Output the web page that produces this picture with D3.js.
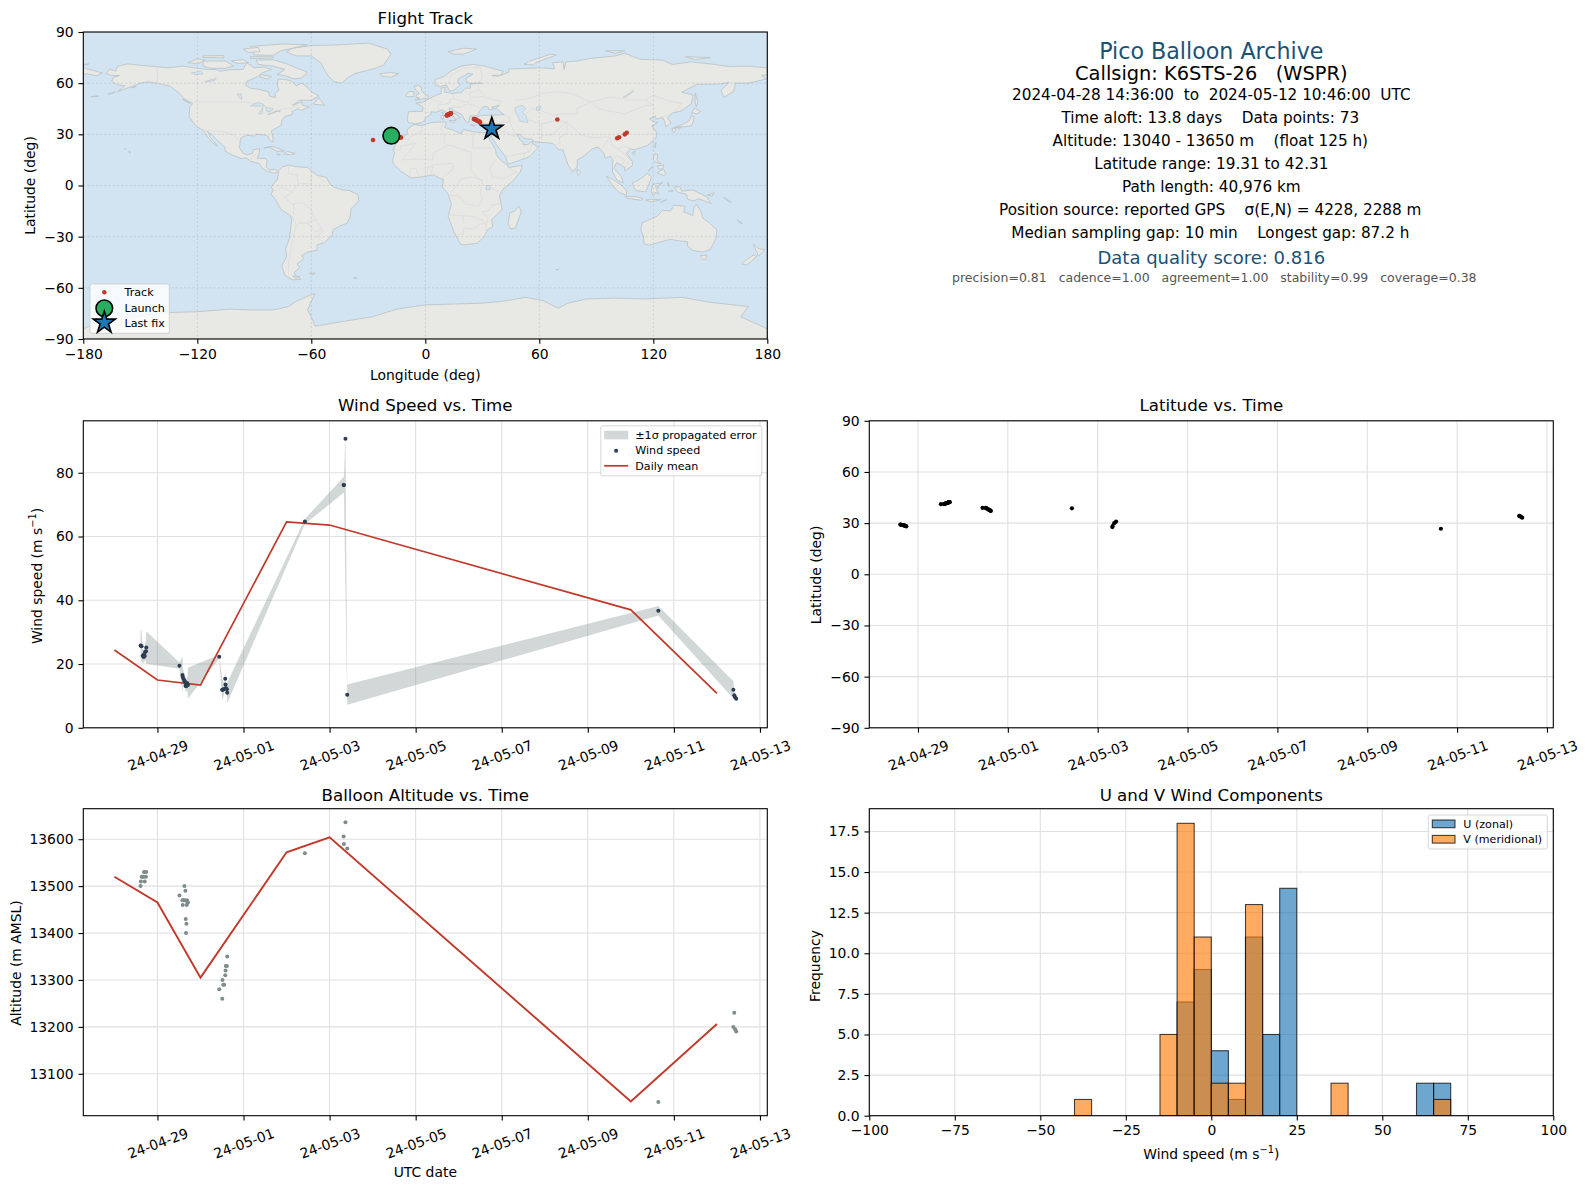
<!DOCTYPE html>
<html><head><meta charset="utf-8">
<script src="https://cdn.jsdelivr.net/npm/d3@7/dist/d3.min.js"></script>
<style>
html,body{margin:0;padding:0;background:#fff}
svg{display:block}
text{font-family:"DejaVu Sans",sans-serif;white-space:pre;fill:#000}
.domain{stroke:#000;stroke-width:1.1}
.tick line{stroke:#000;stroke-width:1.1}
.tick text{font-size:13.9px}
</style></head><body>
<svg id="c" width="1589" height="1189"></svg>
<script>
// ---------- flight records ----------
const times=["2024-04-28T14:36Z","2024-04-28T14:46Z","2024-04-28T15:10Z","2024-04-28T15:46Z","2024-04-28T16:20Z","2024-04-28T16:30Z","2024-04-28T16:56Z","2024-04-28T17:06Z","2024-04-28T17:36Z","2024-04-28T17:46Z",
"2024-04-29T12:16Z","2024-04-29T13:56Z","2024-04-29T14:06Z","2024-04-29T14:30Z","2024-04-29T15:02Z","2024-04-29T15:12Z","2024-04-29T15:36Z","2024-04-29T15:46Z","2024-04-29T15:56Z","2024-04-29T16:10Z","2024-04-29T16:20Z","2024-04-29T16:30Z","2024-04-29T16:42Z","2024-04-29T17:00Z",
"2024-04-30T10:28Z","2024-04-30T12:08Z","2024-04-30T12:18Z","2024-04-30T12:40Z","2024-04-30T13:14Z","2024-04-30T13:48Z","2024-04-30T13:58Z","2024-04-30T14:08Z","2024-04-30T14:44Z","2024-04-30T14:54Z",
"2024-05-02T10:14Z","2024-05-03T07:50Z","2024-05-03T08:00Z","2024-05-03T08:50Z","2024-05-03T09:50Z","2024-05-10T15:20Z",
"2024-05-12T09:10Z","2024-05-12T09:40Z","2024-05-12T10:10Z","2024-05-12T10:46Z"];
const windSpeed=[25.8,25.7,25.6,22.6,22.2,23.0,22.5,23.8,24.0,25.2,
19.5,16.6,16.0,15.4,14.8,14.5,14.2,13.2,13.0,13.6,13.3,13.9,14.0,13.4,
22.3,11.9,11.9,12.0,12.2,15.4,13.6,12.5,12.1,11.0,
64.7,76.2,76.2,90.7,10.4,36.7,
11.9,10.2,9.6,9.1];
const windErrorUp=[4.9,4.9,4.7,2.2,2.0,2.0,2.0,2.2,3.5,5.1,
1.0,5.7,3.0,2.5,2.0,2.0,2.0,2.0,2.0,2.0,2.0,2.0,2.0,5.4,
0.6,3.3,3.0,2.5,1.5,3.6,2.0,1.5,1.0,3.2,
0.8,2.5,2.5,1.5,3.15,1.5,
2.7,1.2,0.6,0.5];
const windErrorDown=[4.9,4.9,4.7,2.2,2.0,2.0,2.0,2.2,3.5,5.1,
1.0,5.7,3.0,2.5,2.0,2.0,2.0,2.0,2.0,2.0,2.0,2.0,2.0,4.2,
0.6,3.3,3.0,2.5,1.5,3.6,2.0,1.5,1.0,3.2,
0.8,2.5,2.5,47,3.15,1.5,
2.7,1.2,0.6,0.5];
const altitude=[13500,13510,13520,13520,13520,13530,13510,13530,13520,13530,
13480,13470,13460,13470,13500,13470,13490,13430,13400,13420,13460,13470,13465,13465,
13280,13260,13300,13290,13290,13310,13320,13330,13330,13350,
13570,13606,13590,13636,13580,13040,
13200,13230,13195,13190];
const latitude=[29.2,29.1,29.0,28.9,28.8,28.6,28.5,28.4,28.2,28.1,
41.1,41.2,41.3,41.4,41.6,41.7,41.8,41.9,42.0,42.1,42.2,42.25,42.3,42.31,
39.0,38.9,38.8,38.6,38.3,38.0,37.8,37.6,37.3,37.1,
38.7,27.7,28.3,30.0,30.9,26.7,
34.2,34.0,33.7,33.2];
const longitude=[-17.9,-17.0,-16.0,-15.5,-15.0,-14.5,-14.0,-13.6,-13.2,-12.8,
11.3,11.5,11.7,11.9,12.1,12.3,12.5,12.7,12.9,13.0,13.2,13.3,13.4,13.5,
25.6,25.9,26.2,26.5,27.0,27.4,27.8,28.2,28.5,28.8,
69.5,101,102,105,106,-27.5,
33,33.5,34,35];
// ---------- daily means ----------
const dailyDates=["2024-04-28","2024-04-29","2024-04-30","2024-05-02","2024-05-03","2024-05-10","2024-05-12"];
const dailyWind=[24.4,15.0,13.4,64.6,63.6,37.0,10.8];
const dailyAlt=[13520,13465,13305,13572,13604,13041,13206];
// ---------- histogram ----------
const binLefts=[-40,-15,-10,-5,0,5,10,15,20,35,60,65];
const binWidth=5;
const countsU=[0,0,7,9,4,1,11,5,14,0,2,2];
const countsV=[1,5,18,11,2,2,13,0,0,2,0,1];
// ---------- tick labels ----------
const dateTicks=["2024-04-29","2024-05-01","2024-05-03","2024-05-05","2024-05-07","2024-05-09","2024-05-11","2024-05-13"];
const lonTicks=[-180,-120,-60,0,60,120,180];
const latTicks=[-90,-60,-30,0,30,60,90];
const windTicks=[0,20,40,60,80];
const altTicks=[13100,13200,13300,13400,13500,13600];
const histXTicks=[-100,-75,-50,-25,0,25,50,75,100];
const histYTicks=[0,2.5,5,7.5,10,12.5,15,17.5];
// ---------- info panel text ----------
const infoLines=[
["Pico Balloon Archive",50.7,22.2,"#1a5276",0],
["Callsign: K6STS-26   (WSPR)",73.3,19.4,"#000",0],
["2024-04-28 14:36:00  to  2024-05-12 10:46:00  UTC",95.0,15.25,"#000",0],
["Time aloft: 13.8 days    Data points: 73",118.0,15.25,"#000",-1],
["Altitude: 13040 - 13650 m    (float 125 h)",141.2,15.25,"#000",-1],
["Latitude range: 19.31 to 42.31",164.0,15.25,"#000",0],
["Path length: 40,976 km",187.0,15.25,"#000",0],
["Position source: reported GPS    σ(E,N) = 4228, 2288 m",210.0,15.25,"#000",-1],
["Median sampling gap: 10 min    Longest gap: 87.2 h",233.0,15.25,"#000",-1],
["Data quality score: 0.816",257,18,"#1a5276",0],
["precision=0.81   cadence=1.00   agreement=1.00   stability=0.99   coverage=0.38",277.3,12.5,"#555",3]];
// ---------- base map (lon, lat outlines) ----------
const land=[
[[-168,65.6],[-166,68.3],[-163,67],[-162,70],[-156.5,71.3],[-150,70.5],[-141,69.6],[-135,69],[-128,70],[-125,69.5],[-115,68],[-110,68],[-108,67],[-102,68],[-96,68],[-94,72],[-90,69],[-85,69.5],[-81,68],[-86,66],[-88,64],[-94,61],[-94.5,58.7],[-92,57],[-88,56.5],[-82.5,55],[-82,52.5],[-79,51.5],[-79,54],[-77,56],[-78,59],[-77.5,62.4],[-73,62],[-70,61],[-68,58.5],[-65,60],[-62,57.5],[-60,55],[-56,52.5],[-60,50],[-66,50],[-70,47],[-65,49],[-64.5,47],[-61,46],[-65.5,44],[-67,45],[-70,43.5],[-70,41.7],[-74,40.5],[-75.5,38],[-76,35],[-78,34],[-81,32],[-80,27],[-80.5,25.2],[-82,27],[-83,29],[-85,29.7],[-89,30],[-90,29],[-94,29.5],[-97,28],[-97.5,25],[-97.8,22],[-96,19],[-94,18],[-91,18.8],[-90.5,21],[-87,21.5],[-87.5,18.5],[-88.5,16],[-84,15.8],[-83.3,14.5],[-83.7,11],[-82,9],[-79.5,9.5],[-77.3,8.5],[-78,7.5],[-80,7.3],[-83,8.2],[-85.7,10],[-87.5,13],[-91.5,14],[-94.5,16.2],[-97,15.8],[-102,18],[-105.5,20.4],[-105.5,22.5],[-109,26],[-112.5,30],[-114.7,31.7],[-113,28],[-110,24],[-109.5,23],[-112,25],[-115,29],[-117,32.5],[-120.5,34.5],[-122.5,37.5],[-124.3,40.3],[-124,46],[-122.5,48],[-127,51],[-130,54.5],[-134,58],[-140,59.7],[-146,60.8],[-150,60],[-152,59],[-156,57.5],[-162,55],[-158,58.5],[-162,59],[-165,61],[-164,63.5],[-161,64.5],[-165,64.5]],
[[-77.3,8.5],[-75,11],[-72,12],[-68,11],[-62,10.6],[-60,8.5],[-57,6],[-52,4.7],[-50,0.5],[-48,-1],[-44,-2.5],[-40,-3],[-35.5,-5.2],[-35,-9],[-39,-13.5],[-39.5,-18],[-41,-22],[-45,-23.7],[-48.5,-26],[-49,-29],[-53,-33.5],[-57,-34.8],[-57,-38],[-62,-39],[-65,-41],[-64,-43],[-67.5,-46],[-66,-48],[-69,-51],[-68.5,-52.5],[-65.5,-55],[-70,-55.3],[-74,-52.5],[-75.5,-47],[-73,-42],[-73.5,-37],[-71.5,-31],[-70.3,-20],[-71,-17.5],[-76,-14],[-79,-8],[-81.3,-5],[-80,-3],[-81,-1],[-80,1],[-78,3],[-77.3,7]],
[[-5.9,35.8],[-2,35.1],[3,36.9],[10,37.3],[11,36.8],[10.2,34],[15,32.3],[19,30.3],[20,32.8],[25,31.6],[29,31],[32.3,31.2],[34.3,31.3],[34.9,29.5],[34,28],[32.6,29.9],[34,26.5],[37,21],[37.4,18],[39.5,15],[43.2,12],[44,10.6],[51,11.8],[50,8],[46,2.5],[41,-2],[39,-6],[40.5,-14],[35,-20],[35.5,-24],[32.8,-26],[31,-30],[27,-34],[20,-34.8],[18.3,-34],[15,-27],[12,-18],[13.7,-11],[12,-5],[9,-1],[9.5,3.5],[7,4.5],[4.5,6.3],[-2,5],[-7.5,4.4],[-13,8.5],[-16.7,12.5],[-17.3,14.7],[-16.2,19],[-17,21],[-14.5,26],[-12,28],[-9.7,30],[-9.5,33]],
[[-5.4,36.1],[-9,37],[-9.5,38.7],[-8.8,43.3],[-1.5,43.5],[-1.2,46],[-4.7,48.4],[-1.5,48.7],[1.5,50.5],[4,52],[7,53.5],[8.5,54],[8.2,57],[10.5,57.7],[10,54.8],[14,54],[19,54.5],[21,57],[24,57.2],[23.5,59.3],[28,60],[30,60],[23,60],[21.5,61],[21.5,63],[25,65.2],[22.5,65.8],[17.5,62.5],[17,60.5],[18.5,59.5],[16.5,57],[14.3,55.5],[12.8,55.5],[11,59],[8,58],[5.3,59],[5,62],[10,64],[14,67.5],[19,70],[25,71],[31,70],[41,67],[40,64.7],[35,64.5],[38,64],[44,66.5],[44,68.3],[54,68.7],[60,69],[68,68.5],[67,72],[72.5,72.5],[73,68],[74,72.5],[80,73],[87,74.5],[100,76],[105,77.5],[113,74],[125,73.5],[130,71],[140,72.5],[152,71],[160,69.7],[170,70],[180,69],[180,65],[177,64.5],[179.5,62.5],[170,60],[163,60],[163,58],[162,55],[157,51.5],[155.7,56],[160,60.5],[155,59.5],[143,59.3],[135,54.7],[141,53],[140,48],[135,43.8],[130,42.5],[127.5,39.7],[129.4,36.5],[126.5,34.5],[126,37.5],[125,39.7],[121.5,39],[121,40.8],[118,39],[120,37.5],[122.5,37],[119.3,35],[121.8,31],[121.5,28],[117,23.5],[113,22],[110,21],[108,21.5],[105.8,19],[109,14],[109,11.5],[105,8.7],[105,10.5],[100.7,13.5],[99.3,10],[103,5.5],[104.2,1.5],[101,3],[98.5,8],[98.7,15],[97.5,17],[94.5,16],[94,19],[91,22.5],[88,21.7],[87,20.5],[82.5,16.5],[80,15],[80,11],[77.5,8],[75,12.5],[73,19],[72.5,21],[70,21],[69,22.5],[67,24.7],[62,25.2],[57,25.7],[56.5,27],[52,27.5],[50,30],[48.2,30],[50,26.5],[51.5,25.5],[51.5,24],[54,24],[56.3,26],[56.5,24.5],[59.5,22.5],[55,17],[52,15.7],[45,13],[43.3,12.7],[42.5,16.5],[39,21.5],[35,28],[34.9,29.5],[34.3,31.3],[36,36],[33,36.1],[30,36.3],[27,37],[26.5,39.5],[29,41],[31.5,41.2],[36,41.3],[41.5,41.5],[38,44.5],[37,45.3],[39,47],[35,46],[36.5,45],[33.5,44.4],[33,46],[31,46.5],[28.5,43.5],[28,41.5],[26,40.8],[23.5,40.5],[23,38],[22.5,36.5],[21,38],[19.3,41.5],[15.5,43.5],[13.7,45.5],[12.3,45.3],[13.5,43.5],[18.3,40],[16.5,39],[16,38],[15.5,40],[12.3,41.7],[10.3,43.5],[8.7,44.4],[6,43],[3.2,43.2],[3,41.8],[0,39.5],[-0.5,38],[-2,36.8]],
[[-180,-84],[-170,-79],[-158,-78],[-150,-76.5],[-135,-74.5],[-120,-74],[-103,-72.5],[-90,-73],[-80,-73],[-72,-71],[-68,-68],[-62,-65],[-58,-63.3],[-60,-68],[-62,-73],[-60,-77],[-58,-82.5],[-45,-80],[-28,-77],[-15,-72.5],[0,-70],[15,-69.5],[30,-69],[40,-68],[53,-65.6],[62,-67.5],[70,-72],[75,-69],[85,-66.5],[100,-66],[115,-66.5],[135,-65.6],[150,-68.5],[170,-71],[166,-77],[170,-79],[180,-84],[180,-90],[-180,-90]],
[[-73,78.3],[-68,76],[-60,76],[-55,72],[-53,68],[-51,64],[-48,61],[-44,60],[-41,63],[-37,65.7],[-27,68.5],[-22,70.5],[-20,74],[-18,77],[-20,80],[-30,83.5],[-45,82.5],[-60,82],[-70,80.5]],
[[-80,73.7],[-72,71],[-68,69],[-62,66.5],[-65,63],[-69,62.5],[-74,64.5],[-78,65],[-74,68],[-80,70],[-88,71],[-89,73.5]],
[[-117,73],[-105,73],[-101,70],[-105,68.7],[-113,68.7],[-117,70]],
[[-125,72],[-120,74.3],[-116,73.5],[-120,71.3]],
[[-90,76.5],[-80,76.3],[-76,79],[-62,82.5],[-75,83],[-92,81.5]],
[[-92,75.5],[-80,75.5],[-80,74.7],[-92,74.5]],
[[-117,76],[-106,76.2],[-106,74.9],[-117,75]],
[[-96,80],[-88,81],[-87,78.5],[-93,78]],
[[-87,65],[-81,64],[-83,62.5],[-87,63.5]],
[[-102,73],[-96,73.8],[-93,72],[-99,71.5]],
[[-59,47.7],[-56,51.5],[-53,47]],
[[-128,50.7],[-123.5,48.4],[-125,48.7]],
[[-85,22],[-80,23],[-74.2,20.2],[-78,20],[-82,22.5]],
[[-74.4,18.5],[-72.5,20],[-68.5,18.7],[-71,18]],
[[-78.3,18.4],[-76.3,18.2],[-77,17.8]],
[[-24,65.5],[-18,66.3],[-14,65.5],[-18,63.5],[-22.5,64]],
[[-5.5,50],[1.3,51.2],[1.7,52.7],[-0.3,53.5],[-2,56],[-2,57.6],[-3.5,58.6],[-6,58.3],[-5,56],[-3,54],[-4.5,53.3],[-5,51.7],[-3,51.4]],
[[-10,52],[-6,52.2],[-6,55],[-8.5,55.2],[-10,53.5]],
[[12,78.5],[20,80.5],[27,80],[20,77],[15,77]],
[[52,71],[55,73],[66,77],[69,76.5],[58,72],[57,70.7]],
[[95,79],[105,79],[100,77.5]],
[[137,75.5],[150,75],[142,73.8]],
[[-180,71],[-177,71.3],[-178,70.8],[-180,70.8]],
[[-180,69],[-175,67.5],[-170,66],[-173,64.3],[-178,65.5],[-180,65]],
[[142,54.3],[143.5,49],[142.7,46],[142,49]],
[[140,42],[141.5,45.4],[145,43.5],[143,42],[141,42.5]],
[[130.9,34],[135,35.7],[139,38],[140,41],[141.5,40.5],[141,37],[140,35],[136.5,34.5],[133,34.2]],
[[130,33.5],[132,33.5],[131,31],[130,31.5]],
[[132.5,34],[134.5,34],[133.5,33]],
[[120.3,23],[121.5,25.2],[121,22]],
[[108.7,19.3],[110.5,20],[110,18.2]],
[[120,16],[120.8,18.5],[122.3,18.3],[122,15],[124,12.7],[120.6,14]],
[[122,7.5],[125.4,9.7],[126.5,7],[125.5,5.8],[124,6.5]],
[[122,11.5],[125.5,12],[125,10],[123,9.5]],
[[117.2,8.4],[119.5,11.2],[119,10]],
[[109,1.5],[111.5,2.7],[114,4.5],[117,7],[119,5],[117.8,1],[116,-3.8],[111,-3],[109.5,-0.5]],
[[95.3,5.5],[98,4],[103.5,0],[106,-3],[105.8,-5.8],[102,-4],[98.5,0]],
[[105.3,-6.5],[111,-6.5],[114.5,-7.7],[114,-8.7],[106,-7.5]],
[[116,-8.5],[119,-8.2],[124,-8.3],[119,-9.7]],
[[124,-9.9],[127,-8.4],[125,-9.3]],
[[119.5,-5.5],[119,-2.5],[120,0.8],[125,1.5],[121,-0.9],[123,-1],[121.5,-2],[122.8,-5],[121,-4],[120.5,-5.5]],
[[127.5,2],[128.5,-0.5],[127.8,0]],
[[128,-3.5],[130.5,-3.2],[129,-3]],
[[131,-0.8],[134,-0.8],[135,-3.3],[141,-2.6],[146,-5.5],[147.8,-6.5],[150.5,-10.5],[144,-7.8],[141,-9],[138,-8],[137.5,-5.2],[133,-4],[132,-2.7]],
[[148.5,-5.7],[152,-4.2],[151,-6.2]],
[[157,-7],[161,-9.5],[160,-9.7]],
[[114,-22],[113.5,-26],[115,-31],[115,-34.3],[118,-35],[124,-33],[129,-31.6],[134,-32.5],[138,-33],[138,-35.5],[140.5,-38],[146,-39],[150,-37.5],[153,-31],[153.5,-26],[149,-21.5],[146,-19],[145,-15],[142.5,-10.8],[141.5,-13],[140.7,-17.5],[136,-15.5],[136.7,-12.2],[131,-11.5],[129,-15],[125,-14.5],[122,-18],[117,-20.5]],
[[144.7,-41],[148.3,-41],[147.5,-43.5],[146,-43.5]],
[[172.7,-34.5],[175.5,-37],[178.5,-37.7],[176.8,-40],[175,-41.5],[174.8,-39.5],[174,-38]],
[[172.7,-40.7],[174.3,-41.8],[171,-45],[169,-46.6],[166.5,-46],[168.5,-44]],
[[164,-20.2],[167,-22.3],[165.5,-21.8]],
[[49.3,-12],[50.5,-15.5],[47.5,-24.8],[45,-25.5],[43.5,-22.5],[44.5,-16],[47,-15]],
[[80,9.7],[81.8,7.5],[80.5,6],[79.8,8]],
[[8.2,41],[9.7,41],[9.5,39],[8.4,39]],
[[8.7,42.8],[9.5,43],[9.4,41.5]],
[[12.5,38],[15.6,38.2],[15,36.7]],
[[23.6,35.5],[26.3,35.3],[24.7,35]],
[[32.4,35],[34.5,35.6],[33.8,34.7]],
[[-61,-51.5],[-58,-51.3],[-59,-52.3]],
[[-38,-54],[-36,-54.2],[-37,-54.6]],
[[68.8,-49.3],[70.3,-49.2],[69.5,-49.7]],
[[-156,20.2],[-155,19.6],[-155.8,19]],
[[-158.2,21.6],[-157.7,21.4],[-158,21.3]],
[[-176,52],[-172,52.7],[-172,52.2]],
[[-167,53.5],[-163,54.9],[-164,54.3]],
[[-154.5,57.5],[-152.5,58],[-153,57.2]],
[[-70,-53],[-66,-53.5],[-68,-54.5]]];
const lakes=[
[[47,45.5],[51,47],[53,45],[51,43],[53,41],[54,37],[50,37.5],[49,40],[47.5,43]],
[[58.5,46],[61,46.5],[60,44],[58.5,44]],
[[-92,46.7],[-88,48.7],[-85,47.5],[-84.7,46.5],[-87,46.5]],
[[-87.8,42],[-85.5,45.7],[-86,42]],
[[-84,46],[-80,45],[-81.7,43.2],[-83.5,43.7]],
[[-83,41.6],[-79,42.9],[-80,42.5]],
[[-79.5,43.5],[-76.3,44],[-76.5,43.3]],
[[-123,66],[-118,67],[-117,65.5],[-121,65]],
[[-116,61],[-110,62.8],[-111,61.5],[-115,60.8]],
[[-99,53.5],[-97,53.8],[-96.5,50.6],[-97.5,51]],
[[32,0],[34,0],[34,-2.5],[32,-2.5]],
[[104,51.7],[109.5,55.6],[109,54.5],[105,51.6]]];
const borders=[
[[-123,49],[-95,49],[-89,48],[-84.5,46.5],[-82.5,43],[-79,43],[-75,45],[-71,45],[-67.5,47],[-67,45]],
[[-141,69.6],[-141,60],[-135,59],[-130,55]],
[[-117,32.5],[-108,31.5],[-106.5,31.7],[-101,29.5],[-97.5,26]],
[[-92,14.5],[-91,17.5],[-89,18]],
[[-72,12],[-72,7],[-67.5,6],[-67,1]],
[[-60,8],[-60,1],[-67,1],[-70,-4],[-74,-7],[-70,-11],[-65,-10],[-60,-14],[-58,-20],[-55,-24],[-54,-27],[-57.5,-30],[-53.5,-33.5]],
[[-70,-18],[-68,-23],[-70,-33],[-72,-45],[-72,-52]],
[[-80,-3.5],[-75,-1],[-70,-4]],
[[-69,-11],[-69.5,-17.5]],
[[-67,-22],[-62,-22],[-58,-20]],
[[-62,-22],[-58,-27],[-54.5,-26]],
[[-57,6],[-54,2.5],[-52,2.5]],
[[-2,35],[-1.5,32],[-8.7,28],[-8.7,27],[-13,27.5]],
[[9.5,37],[8,33],[10,30],[10,25],[12,23.5]],
[[25,31.6],[25,22],[35,22]],
[[24,20],[24,9]],
[[-12,15],[-5,15.5],[4,15],[4,19],[12,23.5],[15,23],[24,19.5]],
[[3,12],[14,13],[15,10],[9,4.5]],
[[12,-6],[17,-6],[22,-11],[28,-12],[30,-8],[29,-4],[30,3],[25,5],[19,4],[17,1],[13,-5]],
[[36.5,14.5],[34,10],[35,5],[41.5,4],[48,8],[43,11]],
[[34,-1],[39.5,-4.5]],
[[34.5,-11.5],[40.5,-10.7]],
[[12,-17],[23,-18],[25,-18],[33,-22]],
[[17,-28.5],[20,-28.5],[20,-24.8],[25,-25.5],[29,-22.5],[32,-22.5],[32,-26.5]],
[[20,-22],[20,-18]],
[[35,-12],[33,-15],[30,-15.5],[33,-19],[32,-22.5]],
[[-8,5],[-8,10],[-5,10],[-3,5]],
[[1,6],[1,11],[4,11],[3,7]],
[[-17,21],[-13,21],[-13,23],[-5,25],[-12,15]],
[[24,9],[28,4],[30,3]],
[[-1.5,43.4],[3,42.5]],
[[2.5,51],[6,49.5],[8,49],[7.5,47.5],[6.5,46],[7.5,44]],
[[14,54],[15,51],[12.5,50],[13.5,48.7],[10,47.5],[7.5,47.5]],
[[23,54.3],[24,50.5],[22.5,49]],
[[15,51],[19,49.5],[22.5,49]],
[[13.7,46],[19,46],[22.5,48],[28,46],[30,45.5]],
[[22.5,41],[26,41.5]],
[[24,51.7],[31,52],[36,50],[40,49.5],[38,47]],
[[23,54],[28,56],[31,53]],
[[28,59.5],[28,56]],
[[28,60.5],[30,63],[29,69],[25,69]],
[[12,59],[13,64],[20,69],[25,69],[29,70]],
[[36,36.5],[42,37],[44.5,37.5],[44.5,39.7],[41.5,41.5]],
[[44.5,37.5],[46,33],[48,30]],
[[35,29.5],[39,32],[42,31.5],[46,29],[48,29]],
[[43,17],[52,19],[55,20],[52,23],[51.5,24]],
[[52,16],[52,19],[55,20],[56,24.5]],
[[61,26],[61,36],[66,37.5],[71,38],[75,37]],
[[61,29.5],[66,29.5],[70,33],[74,37],[75,33],[74,30],[70.5,28],[71,24.5],[68,23.7]],
[[74,37],[79,33],[81,30],[88,28],[97,28.5],[94.5,24],[92,21]],
[[97,28.5],[98,24],[101,21.5],[105,23],[108,21.5]],
[[101,21.5],[105,18.5],[107.5,15],[106,11],[103,11]],
[[98,15.5],[101,17.5],[105,15],[103,11]],
[[47,50],[55,51],[61,54],[70,55],[77,54],[83,51],[87,49]],
[[87,49],[98,52],[107,50],[116,50],[120,53],[127,50],[135,48],[131,43]],
[[87,49],[91,45],[105,42],[112,45],[116,47],[120,47],[116,50]],
[[53,42],[56,45],[61,44],[67,41],[71,42],[80,42],[80,45],[83,47],[87,49]],
[[53,39],[61,36],[66,37.5]],
[[124.5,40],[130,42.5]]];

// ---------- layout ----------
const svg=d3.select("#c");
const W=684,H=307;
const colX=[83.3,869.3], rowY=[32,420.8,808.7];
const parse=d3.isoParse;
const T=times.map(parse), D=dailyDates.map(parse);
const pts=T.map((t,i)=>({t,w:windSpeed[i],up:windErrorUp[i],dn:windErrorDown[i],a:altitude[i],lat:latitude[i],lon:longitude[i]}));
const daily=D.map((t,i)=>({t,w:dailyWind[i],a:dailyAlt[i]}));
const tickDates=dateTicks.map(parse);
const fmt=d3.utcFormat("%y-%m-%d");
const GRID="#e0e0e0";

function frame(x,y,px,py,o){
  const g=svg.append("g").attr("transform",`translate(${px},${py})`);
  const cid="clip"+Math.round(px)+"_"+Math.round(py);
  g.append("clipPath").attr("id",cid).append("rect").attr("width",W).attr("height",H);
  const under=g.append("g");
  const body=g.append("g").attr("clip-path",`url(#${cid})`);
  const axes=g.append("g");
  const xa=d3.axisBottom(x).tickSizeOuter(0).tickSize(4.86).tickPadding(4.86).tickValues(o.xt);
  if(o.xf) xa.tickFormat(o.xf);
  const ya=d3.axisLeft(y).tickSizeOuter(0).tickSize(4.86).tickPadding(4.86).tickValues(o.yt);
  if(o.yf) ya.tickFormat(o.yf);
  const gx=axes.append("g").attr("transform",`translate(0,${H})`).call(xa);
  const gy=axes.append("g").call(ya);
  gx.select(".domain").remove(); gy.select(".domain").remove();
  if(o.rotate){
    gx.selectAll("text").attr("text-anchor","middle").attr("dy",null)
      .attr("dominant-baseline","central")
      .attr("transform","translate(0,27.5) rotate(-20)").attr("y",0);
  }
  if(!o.noGrid){
    under.append("rect").attr("width",W).attr("height",H).attr("fill","#fff");
    const gl=under.append("g").attr("stroke",GRID).attr("stroke-width",1.1);
    gl.selectAll("line.v").data(o.xt).join("line").attr("x1",d=>x(d)).attr("x2",d=>x(d)).attr("y1",0).attr("y2",H);
    gl.selectAll("line.h").data(o.yt).join("line").attr("y1",d=>y(d)).attr("y2",d=>y(d)).attr("x1",0).attr("x2",W);
  }
  axes.append("rect").attr("width",W).attr("height",H).attr("fill","none").attr("stroke","#000").attr("stroke-width",1.1);
  return {g,body,axes};
}
function label(s,x,y,size,anchor,rot){
  return svg.append("text").attr("transform",`translate(${x},${y})${rot?` rotate(${rot})`:""}`)
    .attr("text-anchor",anchor||"middle").attr("dominant-baseline","central").attr("font-size",size).text(s);
}
function unitLabel(x,y,rot){
  const t=svg.append("text").attr("transform",`translate(${x},${y})${rot?` rotate(${rot})`:""}`)
    .attr("text-anchor","middle").attr("dominant-baseline","central").attr("font-size",13.9);
  t.append("tspan").text("Wind speed (m s");
  t.append("tspan").attr("font-size",9.8).attr("dy",-5).text("−1");
  t.append("tspan").attr("dy",5).text(")");
}
function px2(c){return colX[c]+W/2;}

// ---------- map ----------
(function(){
  const px=colX[0],py=rowY[0];
  const x=d3.scaleLinear().domain([-180,180]).range([0,W]);
  const y=d3.scaleLinear().domain([-90,90]).range([H,0]);
  const f=frame(x,y,px,py,{xt:lonTicks,yt:latTicks,noGrid:true});
  const b=f.body;
  b.append("rect").attr("width",W).attr("height",H).attr("fill","#d2e4f1");
  const ln=d3.line().x(d=>x(d[0])).y(d=>y(d[1]));
  b.append("g").selectAll("path").data(land).join("path").attr("d",d=>ln(d)+"Z")
    .attr("fill","#e8e8e4").attr("stroke","#b9c1c5").attr("stroke-width",0.8).attr("stroke-linejoin","round");
  b.append("g").selectAll("path").data(borders).join("path").attr("d",ln)
    .attr("fill","none").attr("stroke","#d9dadb").attr("stroke-width",0.7);
  b.append("g").selectAll("path").data(lakes).join("path").attr("d",d=>ln(d)+"Z")
    .attr("fill","#d2e4f1").attr("stroke","#b9c1c5").attr("stroke-width",0.6);
  const gl=b.append("g").attr("stroke","#8a8f93").attr("stroke-opacity",0.3).attr("stroke-width",0.8).attr("stroke-dasharray","2.2,2");
  gl.selectAll("line.v").data(lonTicks).join("line").attr("x1",d=>x(d)).attr("x2",d=>x(d)).attr("y1",0).attr("y2",H);
  gl.selectAll("line.h").data(latTicks).join("line").attr("y1",d=>y(d)).attr("y2",d=>y(d)).attr("x1",0).attr("x2",W);
  b.append("g").selectAll("circle").data(pts).join("circle")
    .attr("cx",d=>x(d.lon)).attr("cy",d=>y(d.lat)).attr("r",2.3).attr("fill","#c0392b");
  const first=pts[0],last=pts[pts.length-1];
  b.append("circle").attr("cx",x(first.lon)).attr("cy",y(first.lat)).attr("r",8.3)
    .attr("fill","#27ae60").attr("stroke","#000").attr("stroke-width",1.6);
  const star=d3.symbol(d3.symbolStar,150)();
  b.append("path").attr("d",star).attr("transform",`translate(${x(last.lon)},${y(last.lat)})`)
    .attr("fill","#1f77b4").attr("stroke","#000").attr("stroke-width",1.6).attr("stroke-linejoin","miter");
  const lg=f.g.append("g").attr("transform","translate(6.7,252)");
  lg.append("rect").attr("width",79.3).attr("height",49.3).attr("rx",2).attr("fill","#fff").attr("fill-opacity",0.8).attr("stroke","#ccc").attr("stroke-opacity",0.8);
  lg.append("circle").attr("cx",14.3).attr("cy",8.3).attr("r",2.2).attr("fill","#c0392b");
  lg.append("circle").attr("cx",14.3).attr("cy",24.3).attr("r",8.3).attr("fill","#27ae60").attr("stroke","#000").attr("stroke-width",1.6);
  lg.append("path").attr("d",star).attr("transform","translate(14.3,38.7)").attr("fill","#1f77b4").attr("stroke","#000").attr("stroke-width",1.6);
  ["Track","Launch","Last fix"].forEach((s,i)=>lg.append("text").attr("x",34.6).attr("y",[8.3,24.3,39][i]).attr("dominant-baseline","central").attr("font-size",11.1).text(s));
})();
label("Flight Track",px2(0),18.2,16.67);
label("Longitude (deg)",px2(0),375,13.9);
label("Latitude (deg)",30.3,185.5,13.9,"middle",-90);

// ---------- info ----------
svg.append("g").selectAll("text").data(infoLines).join("text")
  .attr("x",d=>px2(1)+d[4]).attr("y",d=>d[1]).attr("text-anchor","middle").attr("dominant-baseline","central")
  .attr("font-size",d=>d[2]).style("fill",d=>d[3]).text(d=>d[0]);

// ---------- time scales ----------
const leftDomain=[parse("2024-04-27T06:39Z"),parse("2024-05-13T04:06Z")];
const rightDomain=[parse("2024-04-27T22:00Z"),parse("2024-05-13T03:23Z")];

// ---------- wind ----------
(function(){
  const x=d3.scaleUtc().domain(leftDomain).range([0,W]);
  const y=d3.scaleLinear().domain([0,96.3]).range([H,0]);
  const f=frame(x,y,colX[0],rowY[1],{xt:tickDates,xf:fmt,yt:windTicks,rotate:true});
  const b=f.body;
  b.append("path").datum(pts).attr("d",d3.area().x(d=>x(d.t)).y0(d=>y(d.w-d.dn)).y1(d=>y(d.w+d.up)))
    .attr("fill","#7f8c8d").attr("fill-opacity",0.35);
  b.append("path").datum(daily).attr("d",d3.line().x(d=>x(d.t)).y(d=>y(d.w)))
    .attr("fill","none").attr("stroke","#c0392b").attr("stroke-width",1.7);
  b.append("g").selectAll("circle").data(pts).join("circle").attr("cx",d=>x(d.t)).attr("cy",d=>y(d.w)).attr("r",2).attr("fill","#2c3e50");
  const lg=f.g.append("g").attr("transform",`translate(517.5,5)`);
  lg.append("rect").attr("width",161).attr("height",50).attr("rx",2).attr("fill","#fff").attr("fill-opacity",0.8).attr("stroke","#ccc").attr("stroke-opacity",0.8);
  lg.append("rect").attr("x",3.4).attr("y",5).attr("width",24).attr("height",8.5).attr("fill","#7f8c8d").attr("fill-opacity",0.35);
  lg.append("circle").attr("cx",15.3).attr("cy",25).attr("r",2).attr("fill","#2c3e50");
  lg.append("line").attr("x1",3.4).attr("x2",27.4).attr("y1",40).attr("y2",40).attr("stroke","#c0392b").attr("stroke-width",1.7);
  ["±1σ propagated error","Wind speed","Daily mean"].forEach((s,i)=>lg.append("text").attr("x",34.5).attr("y",[10,25,41][i]).attr("dominant-baseline","central").attr("font-size",11.1).text(s));
})();
label("Wind Speed vs. Time",px2(0),405.8,16.67);
unitLabel(37.2,576,-90);

// ---------- latitude ----------
(function(){
  const x=d3.scaleUtc().domain(rightDomain).range([0,W]);
  const y=d3.scaleLinear().domain([-90,90]).range([H,0]);
  const f=frame(x,y,colX[1],rowY[1],{xt:tickDates,xf:fmt,yt:latTicks,rotate:true});
  f.body.append("g").selectAll("circle").data(pts).join("circle").attr("cx",d=>x(d.t)).attr("cy",d=>y(d.lat)).attr("r",2.1).attr("fill","#000");
})();
label("Latitude vs. Time",px2(1),405.8,16.67);
label("Latitude (deg)",816,575,13.9,"middle",-90);

// ---------- altitude ----------
(function(){
  const x=d3.scaleUtc().domain(leftDomain).range([0,W]);
  const y=d3.scaleLinear().domain([13010.7,13665]).range([H,0]);
  const f=frame(x,y,colX[0],rowY[2],{xt:tickDates,xf:fmt,yt:altTicks,yf:d3.format("d"),rotate:true});
  f.body.append("g").selectAll("circle").data(pts).join("circle").attr("cx",d=>x(d.t)).attr("cy",d=>y(d.a)).attr("r",2).attr("fill","#7f8c8d");
  f.body.append("path").datum(daily).attr("d",d3.line().x(d=>x(d.t)).y(d=>y(d.a)))
    .attr("fill","none").attr("stroke","#c0392b").attr("stroke-width",1.9);
})();
label("Balloon Altitude vs. Time",px2(0),795,16.67);
label("UTC date",px2(0),1171.6,13.9);
label("Altitude (m AMSL)",15.5,963,13.9,"middle",-90);

// ---------- histogram ----------
(function(){
  const x=d3.scaleLinear().domain([-100,100]).range([0,W]);
  const y=d3.scaleLinear().domain([0,18.9]).range([H,0]);
  const f=frame(x,y,colX[1],rowY[2],{xt:histXTicks,yt:histYTicks,yf:d3.format(".1f")});
  const bars=(vals,col)=>f.body.append("g").selectAll("rect").data(binLefts.map((l,i)=>({l,c:vals[i]})).filter(d=>d.c>0)).join("rect")
    .attr("x",d=>x(d.l)).attr("width",d=>x(d.l+binWidth)-x(d.l)).attr("y",d=>y(d.c)).attr("height",d=>y(0)-y(d.c))
    .attr("fill",col).attr("fill-opacity",0.65).attr("stroke","#000").attr("stroke-opacity",0.72).attr("stroke-width",1.1);
  bars(countsU,"#1f77b4");
  bars(countsV,"#ff7f0e");
  const lg=f.g.append("g").attr("transform",`translate(559,6.3)`);
  lg.append("rect").attr("width",119).attr("height",34).attr("rx",2).attr("fill","#fff").attr("fill-opacity",0.8).attr("stroke","#ccc").attr("stroke-opacity",0.8);
  [["U (zonal)","#1f77b4",9],["V (meridional)","#ff7f0e",24.4]].forEach(d=>{
    lg.append("rect").attr("x",4).attr("y",d[2]-4).attr("width",22.7).attr("height",7.7).attr("fill",d[1]).attr("fill-opacity",0.65).attr("stroke","#000").attr("stroke-opacity",0.72).attr("stroke-width",1.1);
    lg.append("text").attr("x",35).attr("y",d[2]).attr("dominant-baseline","central").attr("font-size",11.1).text(d[0]);
  });
})();
label("U and V Wind Components",px2(1),795,16.67);
unitLabel(px2(1),1154,0);
label("Frequency",815,966,13.9,"middle",-90);
</script>
</body></html>
